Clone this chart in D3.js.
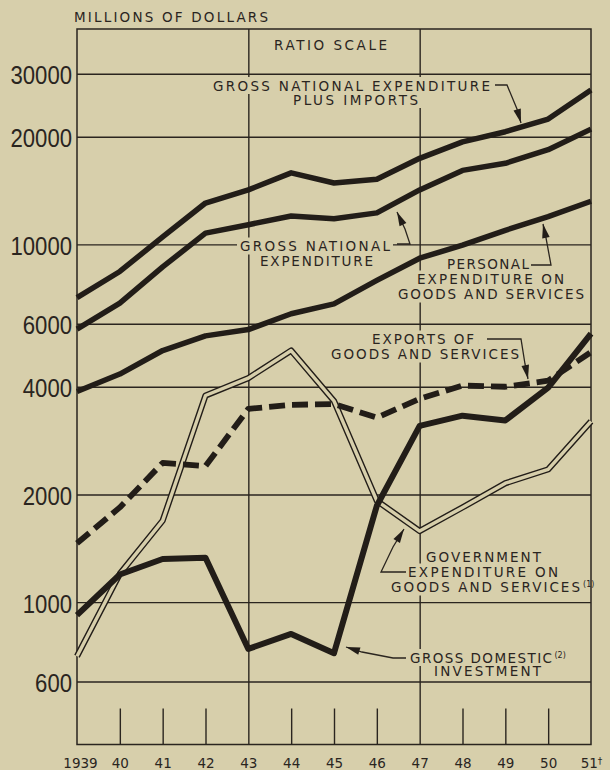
<!DOCTYPE html>
<html>
<head>
    <meta charset="UTF-8">
    <title>Gross national expenditure, ratio scale</title>
    <script src="https://d3js.org/d3.v7.min.js" charset="utf-8"></script>
    <style>
        body {
            margin: 0;
            background: #d7cfab;
        }

        svg {
            display: block;
        }

        text {
            font-family: "DejaVu Sans", sans-serif;
            font-size: 13.5px;
            fill: #2a251f;
        }

        .grid line, .frame, .leader {
            stroke: #2a251f;
            fill: none;
        }

        .ylab text {
            font-family: "Liberation Sans Narrow", "Liberation Sans", sans-serif;
            font-size: 25px;
        }
    </style>
</head>
<body>
<svg id="chart"></svg>
<script>
    // values (millions of dollars)
    var years = [1939, 1940, 1941, 1942, 1943, 1944, 1945, 1946, 1947, 1948, 1949, 1950, 1951];
    var yearLabels = ["1939", "40", "41", "42", "43", "44", "45", "46", "47", "48", "49", "50", "51"];

    var gneImports = [7100, 8400, 10500, 13050, 14200, 15850, 14850, 15200, 17400, 19350, 20650, 22400, 27000];
    var gne = [5800, 6850, 8650, 10750, 11350, 12000, 11800, 12250, 14200, 16100, 16850, 18400, 21000];
    var personal = [3880, 4340, 5050, 5550, 5780, 6400, 6820, 7930, 9150, 9950, 10950, 11950, 13200];
    var exportsGS = [1460, 1840, 2450, 2400, 3470, 3560, 3580, 3280, 3700, 4030, 4000, 4160, 5000];
    var government = [706, 1200, 1690, 3780, 4230, 5050, 3650, 1920, 1580, 1840, 2150, 2350, 3200];
    var investment = [920, 1195, 1320, 1330, 740, 815, 720, 1860, 3110, 3320, 3220, 3980, 5630];

    var yTicks = [600, 1000, 2000, 4000, 6000, 10000, 20000, 30000];
    var fullYears = [1943, 1947];

    var W = 610, H = 770;
    var pLeft = 77, pRight = 591, pTop = 29, pBottom = 744.5;
    var ink = "#221d18", paper = "#d7cfab";

    var svg = d3.select("svg#chart").attr("width", W).attr("height", H);

    var x = d3.scaleLinear().domain([1939, 1951]).range([pLeft, pRight]);
    var y = d3.scaleLog().domain([400, 40000]).range([pBottom, pTop]);

    // horizontal grid + value labels
    var yAxis = d3.axisLeft(y)
            .tickValues(yTicks)
            .tickSize(-(pRight - pLeft))
            .tickPadding(5)
            .tickFormat(d3.format("d"));

    var gy = svg.append("g")
            .attr("class", "grid ylab")
            .attr("transform", "translate(" + pLeft + ",0)")
            .call(yAxis);
    gy.select(".domain").remove();
    gy.selectAll("line").attr("stroke", "#2a251f").attr("stroke-width", 1.4);
    gy.selectAll("text")
            .attr("dy", "0.4em")
            .attr("fill", "#2a251f")
            .attr("textLength", function (d) { return String(d).length * 12.3; })
            .attr("lengthAdjust", "spacingAndGlyphs");

    // year ticks up from the bottom, 1943 and 1947 run the full height
    var xAxis = d3.axisBottom(x)
            .tickValues(years)
            .tickSize(-36)
            .tickPadding(14)
            .tickFormat(function (d, i) { return yearLabels[i]; });

    var gx = svg.append("g")
            .attr("class", "grid")
            .attr("transform", "translate(0," + pBottom + ")")
            .call(xAxis);
    gx.select(".domain").remove();
    gx.selectAll("line").attr("stroke", "#2a251f").attr("stroke-width", 1.4)
            .filter(function (d) { return d === 1939 || d === 1951; }).remove();
    gx.selectAll(".tick line")
            .filter(function (d) { return fullYears.indexOf(d) >= 0; })
            .attr("y2", pTop - pBottom);
    gx.selectAll("text").attr("fill", "#2a251f").attr("font-size", 14);
    gx.selectAll(".tick text")
            .filter(function (d) { return d === 1939; })
            .attr("dx", 3);
    gx.selectAll(".tick")
            .filter(function (d) { return d === 1951; })
            .select("text")
            .append("tspan")
            .attr("dy", "-0.45em")
            .attr("font-size", 9)
            .text("\u2020");

    svg.append("rect")
            .attr("class", "frame")
            .attr("x", pLeft).attr("y", pTop)
            .attr("width", pRight - pLeft).attr("height", pBottom - pTop)
            .attr("stroke-width", 1.5);

    // captions
    var notes = [
        {text: "GROSS NATIONAL EXPENDITURE", x: 213, y: 90.5, len: 277},
        {text: "PLUS IMPORTS", x: 293, y: 104.5, len: 125},
        {text: "GROSS NATIONAL", x: 240, y: 251, len: 150},
        {text: "EXPENDITURE", x: 260, y: 266, len: 113},
        {text: "PERSONAL", x: 447, y: 269, len: 82},
        {text: "EXPENDITURE ON", x: 417, y: 284, len: 147},
        {text: "GOODS AND SERVICES", x: 398, y: 299, len: 186},
        {text: "EXPORTS OF", x: 372, y: 344, len: 102},
        {text: "GOODS AND SERVICES", x: 331, y: 359, len: 188},
        {text: "GOVERNMENT", x: 426, y: 562, len: 115},
        {text: "EXPENDITURE ON", x: 408, y: 577, len: 150},
        {text: "GOODS AND SERVICES", x: 391, y: 592, len: 189, sup: "(1)"},
        {text: "GROSS DOMESTIC", x: 410, y: 662.5, len: 142, sup: "(2)"},
        {text: "INVESTMENT", x: 434, y: 676, len: 107}
    ];

    // blank the grid behind the captions
    svg.append("g").selectAll("rect").data(notes).enter().append("rect")
            .attr("x", function (d) { return d.x - 3; })
            .attr("y", function (d) { return d.y - 13.5; })
            .attr("width", function (d) { return Math.min(d.len + (d.sup ? 20 : 0) + 6, pRight - 1.5 - (d.x - 3)); })
            .attr("height", 17)
            .attr("fill", paper);

    function drawNote(g, d) {
        var t = g.append("text")
                .attr("x", d.x).attr("y", d.y);
        t.append("tspan")
                .attr("textLength", d.len)
                .attr("lengthAdjust", "spacing")
                .text(d.text);
        if (d.sup) {
            t.append("tspan")
                    .attr("dx", 1)
                    .attr("dy", -5)
                    .attr("font-size", 8)
                    .text(d.sup);
        }
    }

    var gn = svg.append("g");
    notes.forEach(function (d) { drawNote(gn, d); });
    drawNote(gn, {text: "MILLIONS OF DOLLARS", x: 74, y: 22, len: 194});
    drawNote(gn, {text: "RATIO SCALE", x: 274, y: 50, len: 113});

    // leader lines with arrowheads
    var leaders = [
        {path: [[495, 85], [507, 85], [517, 109]], tip: [521, 123]},
        {path: [[397, 244], [410, 244], [405, 229]], tip: [397, 212]},
        {path: [[531, 265], [551, 265], [546, 238]], tip: [543, 224]},
        {path: [[487, 339], [521, 339], [525, 364]], tip: [528, 379]},
        {path: [[406, 572], [381, 572], [393, 547]], tip: [404, 529]},
        {path: [[406, 658], [393, 658], [362, 652]], tip: [346, 647]}
    ];

    leaders.forEach(function (l) {
        var last = l.path[l.path.length - 1];
        svg.append("path")
                .attr("class", "leader")
                .attr("stroke-width", 1.3)
                .attr("d", d3.line()(l.path.concat([l.tip])));
        var dx = l.tip[0] - last[0], dy = l.tip[1] - last[1];
        var n = Math.sqrt(dx * dx + dy * dy), ux = dx / n, uy = dy / n;
        var bx = l.tip[0] - ux * 14, by = l.tip[1] - uy * 14;
        svg.append("path")
                .attr("fill", ink)
                .attr("d", "M" + l.tip + "L" + [bx - uy * 3.8, by + ux * 3.8] +
                        "L" + [bx + uy * 3.8, by - ux * 3.8] + "Z");
    });

    // series
    function line(values) {
        return d3.line()
                .x(function (d, i) { return x(years[i]); })
                .y(function (d) { return y(d); })(values);
    }

    var gl = svg.append("g").attr("fill", "none").attr("stroke-linejoin", "round");

    // government: hollow double line
    gl.append("path").attr("d", line(government)).attr("stroke", ink).attr("stroke-width", 6.2);
    gl.append("path").attr("d", line(government)).attr("stroke", paper).attr("stroke-width", 3.4);

    gl.append("path").attr("d", line(exportsGS)).attr("stroke", ink).attr("stroke-width", 5.8)
            .attr("stroke-dasharray", "16,7");

    [gneImports, gne, personal].forEach(function (s) {
        gl.append("path").attr("d", line(s)).attr("stroke", ink).attr("stroke-width", 5.5);
    });

    gl.append("path").attr("d", line(investment)).attr("stroke", ink).attr("stroke-width", 6);
</script>
</body>
</html>
